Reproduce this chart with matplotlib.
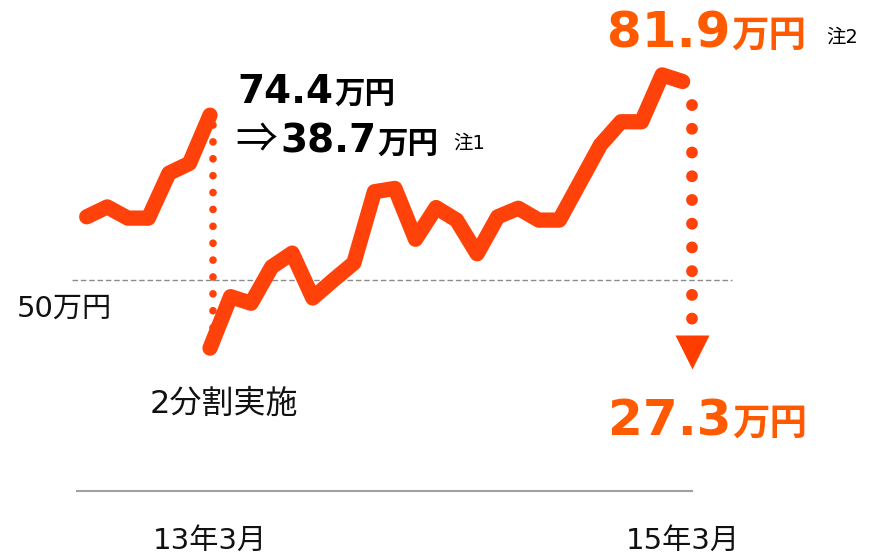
import numpy as np
import matplotlib
matplotlib.use('Agg')
import matplotlib.pyplot as plt

plt.rcParams['font.family'] = ['DejaVu Sans', 'Noto Sans CJK JP']

# 株価(万円) 分割前 / 分割後
meses_antes = np.arange(-6, 1)
preco_antes = [59.5, 61.0, 59.3, 59.3, 66.1, 67.6, 74.9]
meses_depois = np.arange(0, 24)
preco_depois = [39.6, 47.4, 46.4, 51.9, 54.0, 47.2, 49.9, 52.5, 63.3, 63.8,
                56.1, 60.9, 59.0, 53.9, 59.5, 60.8, 59.0, 59.0, 64.7, 70.4,
                73.9, 73.9, 81.0, 80.0]
rotulos_x = ['13年3月', '15年3月']
pos_rotulos_x = [0, 23]
nivel_ref = 50
rotulo_ref = '50万円'

COR_LINHA = '#FF420A'
COR_TEXTO = '#FF5A00'

W, H = 870, 554
fig = plt.figure(figsize=(W / 100, H / 100), dpi=100)
ax = fig.add_axes([0, 0, 1, 1])
ax.set_xlim(-210 / 20.55, 660 / 20.55)
ax.set_ylim(50 - 274.5 / 6.6, 50 + 279.5 / 6.6)
ax.axis('off')


def px(x, y):
    return x / W, 1 - y / H


# linha de referencia 50万円
ax.plot([-6.7, 25.4], [nivel_ref, nivel_ref], color='#8c8c8c', lw=1.0,
        ls=(0, (4, 2)), zorder=1)
# eixo de baixo
fig.add_artist(plt.Line2D([77 / W, 692 / W], [1 - 491 / H, 1 - 491 / H],
                          color='#a0a0a0', lw=1.5))

# pontilhado do split
ax.plot([0.15, 0.15], [preco_antes[-1] - 1.5, preco_depois[0] + 0.5],
        color=COR_LINHA, lw=5.5, ls=(0, (0.01, 2.2)), dash_capstyle='round',
        zorder=2)
# pontilhado da direita + seta
ax.plot([23.45, 23.45], [preco_depois[-1] - 3.5, 40.5],
        color=COR_LINHA, lw=8.5, ls=(0, (0.01, 2.0)), dash_capstyle='round',
        zorder=2)
ax.plot([23.45], [39.0], marker='v', ms=25, color='#FF3D00', mec='none',
        zorder=2)

ax.plot(meses_antes, preco_antes, color=COR_LINHA, lw=11,
        solid_capstyle='round', solid_joinstyle='round', zorder=3)
ax.plot(meses_depois, preco_depois, color=COR_LINHA, lw=11,
        solid_capstyle='round', solid_joinstyle='round', zorder=3)

renderer = fig.canvas.get_renderer()


def valor_com_unidade(x, y, numero, cor, tam_num, tam_uni):
    t = fig.text(*px(x, y), numero, fontsize=tam_num, fontweight='bold',
                 color=cor, ha='left', va='baseline')
    x1 = t.get_window_extent(renderer).x1
    fig.text((x1 + 1) / W, 1 - y / H, '万円', fontsize=tam_uni,
             fontweight='bold', color=cor, ha='left', va='baseline')


valor_com_unidade(237, 103, '74.4', 'black', 28, 22)
fig.text(*px(235, 152), '⇒', fontsize=30, color='black', va='baseline',
         family=['Noto Sans CJK JP', 'DejaVu Sans'])
valor_com_unidade(280, 153, '38.7', 'black', 28, 22)
fig.text(*px(453, 149), '注1', fontsize=14, color='black', va='baseline')

valor_com_unidade(607, 47, '81.9', COR_TEXTO, 36, 27)
fig.text(*px(826, 43), '注2', fontsize=14, color='black', va='baseline')
valor_com_unidade(608, 435, '27.3', COR_TEXTO, 36, 27)

fig.text(*px(17, 317), rotulo_ref, fontsize=21, color='#111111', va='baseline')
fig.text(*px(150, 413), '2分割実施', fontsize=23, color='#111111',
         va='baseline')

for p, r in zip(pos_rotulos_x, rotulos_x):
    ax.text(p, 1 - 549 / H, r, fontsize=21, color='#111111', ha='center',
            va='baseline', transform=ax.get_xaxis_transform())

fig.savefig('out.png', dpi=100)
